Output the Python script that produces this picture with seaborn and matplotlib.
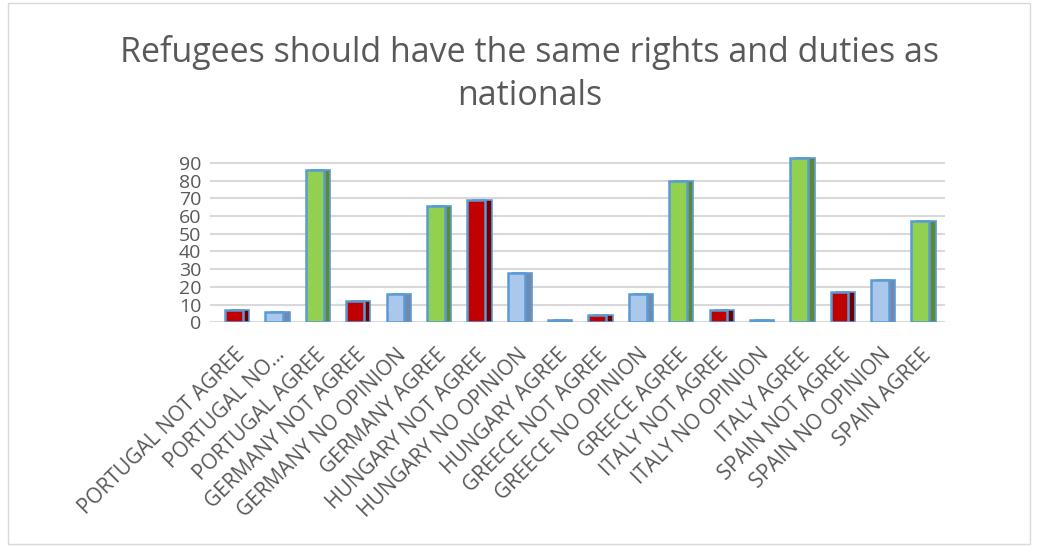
import matplotlib
matplotlib.use("Agg")
import matplotlib.pyplot as plt
import seaborn as sns
import pandas as pd

# Survey answers per country
categories = [
    "PORTUGAL NOT AGREE", "PORTUGAL NO…", "PORTUGAL AGREE",
    "GERMANY NOT AGREE", "GERMANY NO OPINION", "GERMANY AGREE",
    "HUNGARY NOT AGREE", "HUNGARY NO OPINION", "HUNGARY AGREE",
    "GREECE NOT AGREE", "GREECE NO OPINION", "GREECE AGREE",
    "ITALY NOT AGREE", "ITALY NO OPINION", "ITALY AGREE",
    "SPAIN NOT AGREE", "SPAIN NO OPINION", "SPAIN AGREE",
]
answers = [
    "not", "none", "agree",
    "not", "none", "agree",
    "not", "none", "agree",
    "not", "none", "agree",
    "not", "none", "agree",
    "not", "none", "agree",
]
values = [7, 6, 86, 12, 16, 66, 69, 28, 1, 4, 16, 80, 7, 1, 93, 17, 24, 57]
yticks = [0, 10, 20, 30, 40, 50, 60, 70, 80, 90]

face = {"not": "#C00000", "none": "#A9C8EC", "agree": "#92D050"}
side = {"not": "#6E0000", "none": "#6F8AAE", "agree": "#5E8A2E"}

df = pd.DataFrame({"category": categories, "answer": answers, "value": values})

sns.set_theme(style="white")
plt.rcParams["font.family"] = ["Open Sans", "DejaVu Sans"]

fig = plt.figure(figsize=(10.38, 5.47), dpi=100)
ax = fig.add_axes([0.202, 0.411, 0.708, 0.307])

# darker side faces give the columns some depth
sns.barplot(data=df, x="category", y="value", hue="answer", palette=side,
            dodge=False, legend=False, width=0.46, ax=ax, linewidth=1.2,
            edgecolor="#5B9BD5", saturation=1, zorder=2)
for p in ax.patches:
    p.set_x(p.get_x() + 0.15)

sns.barplot(data=df, x="category", y="value", hue="answer", palette=face,
            dodge=False, legend=False, width=0.44, ax=ax,
            edgecolor="#5B9BD5", linewidth=1.8, saturation=1, zorder=3)

ax.set_ylim(0, 95)
ax.set_xlim(-0.6, len(categories) - 0.4)
ax.set_yticks(yticks)
ax.set_yticklabels([str(t) for t in yticks], color="#595959", fontsize=14)
ax.yaxis.grid(True, color="#D9D9D9", linewidth=1.5, zorder=0)
ax.set_axisbelow(True)
for s in ax.spines.values():
    s.set_visible(False)
ax.tick_params(axis="y", length=0, pad=6)
ax.tick_params(axis="x", length=0, pad=16)
ax.set_xlabel("")
ax.set_ylabel("")
ax.set_xticks(range(len(categories)))
ax.set_xticklabels(categories, rotation=45, ha="right", rotation_mode="anchor",
                   color="#595959", fontsize=15)

fig.text(0.51, 0.865, "Refugees should have the same rights and duties as\nnationals",
         ha="center", va="center", fontsize=24.5, color="#595959", linespacing=1.35)

# chart area frame
fig.patches.append(plt.Rectangle((0.008, 0.005), 0.984, 0.99, transform=fig.transFigure,
                                 fill=False, edgecolor="#D9D9D9", linewidth=1))

fig.savefig("out.png", dpi=100, facecolor="white")
